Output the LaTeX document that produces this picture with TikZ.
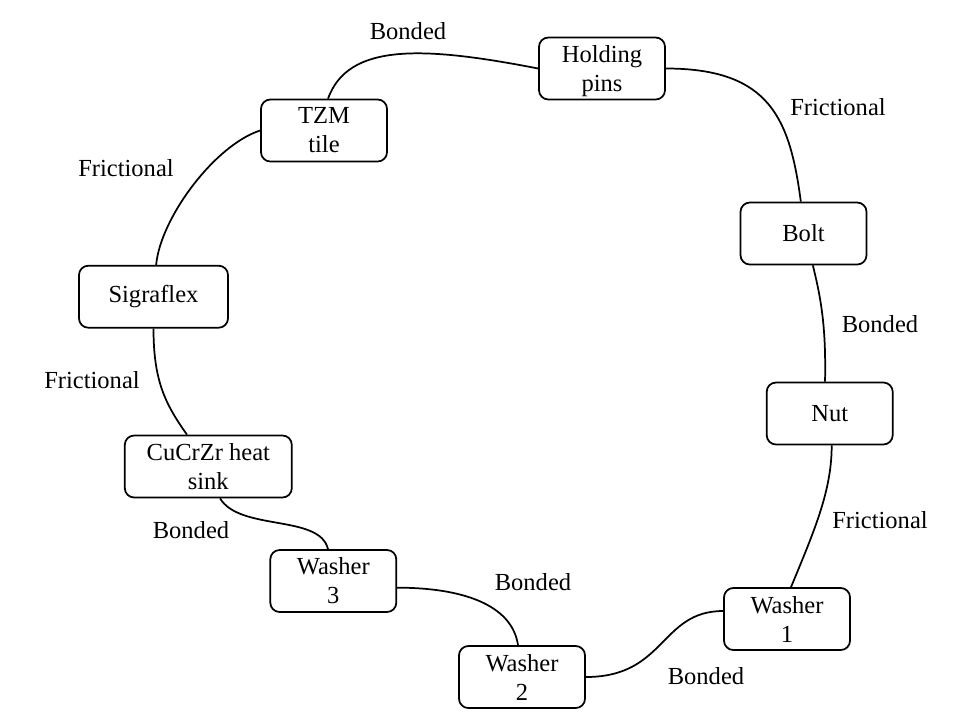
\documentclass[tikz,border=0pt]{standalone}
\usepackage{fontspec}
\setmainfont{Liberation Serif}
\begin{document}
\begin{tikzpicture}[x=0.75pt,y=-0.75pt,
  part/.style={draw,line width=1.3pt,rounded corners=7pt,align=center,
    minimum width=94.5pt,minimum height=46.5pt,inner sep=2pt,
    font=\fontsize{18.4pt}{21.75pt}\selectfont},
  lbl/.style={inner sep=0pt,font=\fontsize{18.4pt}{21.75pt}\selectfont},
  link/.style={line width=1.3pt}]
\useasboundingbox (0,0) rectangle (975,722);
\node[part] (hold) at (602,68.5) {Holding\\\raisebox{0pt}[\height][0pt]{pins}};
\node[part] (tzm) at (324,130.5) {TZM\\tile};
\node[part] (bolt) at (803.5,233.5) {Bolt};
\node[part,minimum width=111.75pt] (sig) at (153.5,296.7) {Sigraflex};
\node[part] (nut) at (829.7,413.5) {Nut};
\node[part,minimum width=125.25pt] (cu) at (208.3,466.5) {CuCrZr heat\\sink};
\node[part] (w3) at (333.3,581) {Washer\\3};
\node[part] (w1) at (787,619) {Washer\\1};
\node[part] (w2) at (522,677) {Washer\\2};

\node[lbl] (l1) at (408,31) {Bonded};
\node[lbl] (l2) at (838,107) {Frictional};
\node[lbl] (l3) at (126,168) {Frictional};
\node[lbl] (l4) at (880,324) {Bonded};
\node[lbl] (l5) at (92,380) {Frictional};
\node[lbl] (l6) at (880,520) {Frictional};
\node[lbl] (l7) at (191,530) {Bonded};
\node[lbl] (l8) at (533,582) {Bonded};
\node[lbl] (l9) at (706,676) {Bonded};

\draw[link] ([xshift=3pt]tzm.north) .. controls +(20,-55) and +(-118,-23) .. (hold.west);
\draw[link] (hold.east) .. controls +(104,0) and +(-11,-83) .. ([xshift=-2pt]bolt.north);
\draw[link] ([xshift=7pt]bolt.south) .. controls +(9,36) and +(1,-52) .. ([xshift=-3.5pt]nut.north);
\draw[link] ([xshift=1.5pt]nut.south) .. controls +(0,45) and +(24,-58) .. ([xshift=3pt]w1.north);
\draw[link] ([yshift=6pt]w1.west) .. controls +(-63,0) and +(80,0) .. (w2.east);
\draw[link] ([xshift=-3pt]w2.north) .. controls +(-6,-41) and +(64,0) .. ([yshift=-5pt]w3.east);
\draw[link] ([xshift=8.8pt]cu.south) .. controls +(20,33) and +(-8,-35) .. ([xshift=-4pt]w3.north);
\draw[link] (sig.south) .. controls +(0,52) and +(-22,-31) .. ([xshift=-16pt]cu.north);
\draw[link] ([xshift=2pt]sig.north) .. controls +(4,-46) and +(-46,15) .. (tzm.west);
\end{tikzpicture}
\end{document}
